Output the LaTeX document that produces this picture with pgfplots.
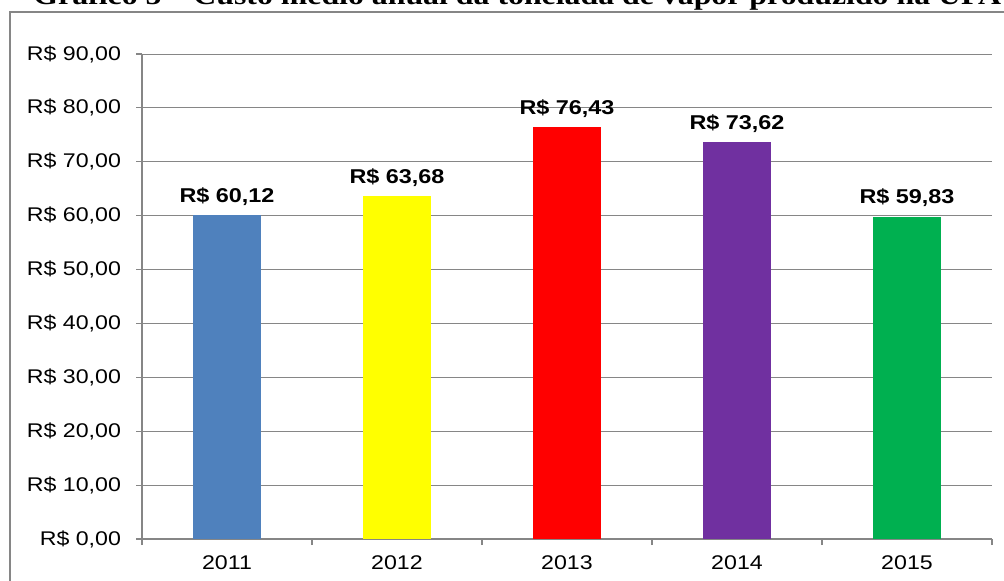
\documentclass[border=0pt]{standalone}
\usepackage{pgfplots}
\pgfplotsset{compat=1.18}
\usepackage{fontspec}
\setmainfont{Liberation Sans}[FakeStretch=1.17]
\newfontfamily\titlefont{Liberation Serif}[FakeStretch=1.17]
\definecolor{gridc}{RGB}{134,134,134}
\definecolor{c2011}{RGB}{79,129,189}
\definecolor{c2012}{RGB}{255,255,0}
\definecolor{c2013}{RGB}{255,0,0}
\definecolor{c2014}{RGB}{112,48,160}
\definecolor{c2015}{RGB}{0,176,80}
\begin{document}
\begin{tikzpicture}[x=1pt,y=1pt]
\useasboundingbox (0,0) rectangle (502,290);
\clip (0,0) rectangle (502,290);
\draw[gridc, line width=1pt] (5,-10) -- (5,284) -- (520,284);
\node[anchor=base west, inner sep=0, font=\titlefont\bfseries\fontsize{13.6}{16}\selectfont] at (16.5,287.75) {Gráfico 5 – Custo médio anual da tonelada de vapor produzido na UFA};
\begin{axis}[
  at={(71pt,20.5pt)}, anchor=south west,
  scale only axis, width=425pt, height=242.5pt,
  xmin=-0.5, xmax=4.5, ymin=0, ymax=90,
  ybar, bar width=34pt,
  axis x line*=bottom, axis y line*=left,
  axis line style={draw=gridc, line width=0.6pt, -},
  xtick={0,1,2,3,4}, xticklabels={2011,2012,2013,2014,2015},
  minor xtick={-0.5,0.5,1.5,2.5,3.5,4.5},
  major x tick style={draw=none},
  minor x tick style={draw=gridc, line width=0.6pt},
  ytick={0,10,...,90},
  y tick style={draw=gridc, line width=0.6pt},
  tick align=outside, major tick length=3pt, minor tick length=3pt,
  ymajorgrids, major grid style={draw=gridc, line width=0.5pt},
  tick label style={font=\fontsize{9.9}{12}\selectfont, text=black},
  yticklabel style={xshift=-4pt},
  xticklabel style={yshift=-2pt},
  yticklabel={R\$ \pgfmathprintnumber[fixed,fixed zerofill,precision=2,use comma,assume math mode=true]{\tick}},
  nodes near coords={R\$ \pgfmathprintnumber[fixed,fixed zerofill,precision=2,use comma,assume math mode=true]{\pgfplotspointmeta}},
  nodes near coords style={font=\bfseries\fontsize{10}{12}\selectfont, anchor=base, yshift=6.3pt, text=black},
  clip=false,
]
\addplot[fill=c2011, draw=none, bar shift=0pt] coordinates {(0,60.12)};
\addplot[fill=c2012, draw=none, bar shift=0pt] coordinates {(1,63.68)};
\addplot[fill=c2013, draw=none, bar shift=0pt] coordinates {(2,76.43)};
\addplot[fill=c2014, draw=none, bar shift=0pt] coordinates {(3,73.62)};
\addplot[fill=c2015, draw=none, bar shift=0pt] coordinates {(4,59.83)};
\end{axis}
\end{tikzpicture}
\end{document}
